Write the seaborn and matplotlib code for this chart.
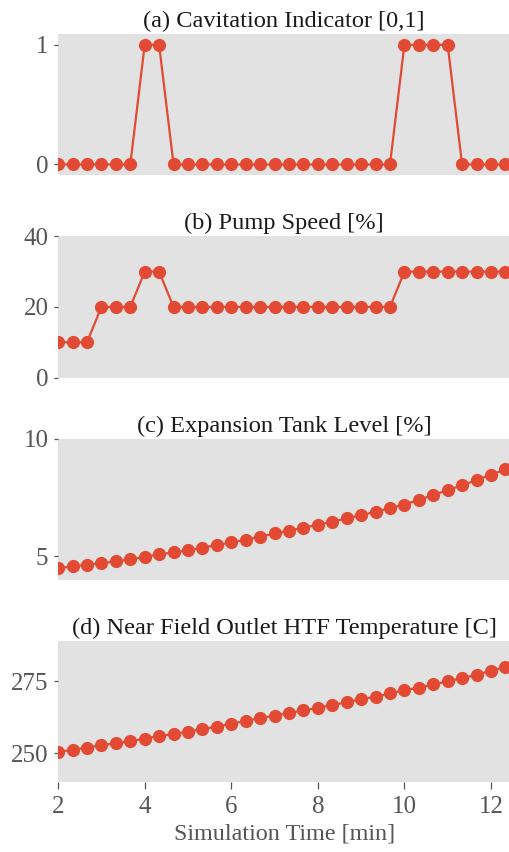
import numpy as np
import pandas as pd
import matplotlib
matplotlib.use("Agg")
import matplotlib.pyplot as plt
import seaborn as sns

# Sample times in minutes (20 s step)
time_min = [2.0, 2.333, 2.667, 3.0, 3.333, 3.667, 4.0, 4.333, 4.667, 5.0, 5.333,
            5.667, 6.0, 6.333, 6.667, 7.0, 7.333, 7.667, 8.0, 8.333, 8.667, 9.0,
            9.333, 9.667, 10.0, 10.333, 10.667, 11.0, 11.333, 11.667, 12.0, 12.333]

cavitation = [0, 0, 0, 0, 0, 0, 1, 1, 0, 0, 0, 0, 0, 0, 0, 0,
              0, 0, 0, 0, 0, 0, 0, 0, 1, 1, 1, 1, 0, 0, 0, 0]

pump_speed = [10, 10, 10, 20, 20, 20, 30, 30, 20, 20, 20, 20, 20, 20, 20, 20,
              20, 20, 20, 20, 20, 20, 20, 20, 30, 30, 30, 30, 30, 30, 30, 30]

tank_level = [4.50, 4.57, 4.64, 4.71, 4.78, 4.87, 4.97, 5.08, 5.17, 5.25, 5.37,
              5.48, 5.59, 5.71, 5.83, 5.97, 6.08, 6.22, 6.34, 6.47, 6.61, 6.75,
              6.89, 7.05, 7.20, 7.40, 7.60, 7.82, 8.02, 8.24, 8.46, 8.70]

outlet_temp = [250.5, 251.2, 252.0, 252.8, 253.5, 254.2, 255.1, 256.0, 256.7,
               257.5, 258.4, 259.3, 260.2, 261.3, 262.2, 263.1, 264.0, 264.9,
               265.7, 266.8, 267.7, 268.8, 269.6, 270.8, 271.9, 272.8, 273.9,
               275.0, 276.1, 277.2, 278.7, 279.9]

titles = ["(a) Cavitation Indicator [0,1]",
          "(b) Pump Speed [%]",
          "(c) Expansion Tank Level [%]",
          "(d) Near Field Outlet HTF Temperature [C]"]
y_ticks = [[0, 1], [0, 20, 40], [5, 10], [250, 275]]
y_limits = [(-0.09, 1.09), (0, 40), (4.0, 10.0), (240, 289)]
x_ticks = [2, 4, 6, 8, 10, 12]

df = pd.DataFrame({"time": time_min, "cav": cavitation, "speed": pump_speed,
                   "level": tank_level, "temp": outlet_temp})
columns = ["cav", "speed", "level", "temp"]

sns.set_theme(style="white", rc={
    "axes.facecolor": "#E2E2E2",
    "axes.edgecolor": "none",
    "axes.grid": False,
    "xtick.bottom": True,
    "ytick.left": True,
})
plt.rcParams["font.family"] = ["Liberation Serif", "DejaVu Serif"]

line_color = "#E24A33"
tick_color = "#555555"

fig, axes = plt.subplots(4, 1, figsize=(5.1, 8.52), dpi=100, sharex=True)
fig.subplots_adjust(left=0.114, right=1.0, top=0.96, bottom=0.082, hspace=0.433)

for ax, col, title, yt, yl in zip(axes, columns, titles, y_ticks, y_limits):
    sns.lineplot(data=df, x="time", y=col, ax=ax, color=line_color,
                 marker="o", markersize=9.5, markeredgewidth=0,
                 linewidth=1.6)
    for s in ax.spines.values():
        s.set_visible(False)
    ax.set_title(title, fontsize=17.6, color="#1a1a1a", pad=5)
    ax.set_yticks(yt)
    ax.set_ylim(*yl)
    ax.set_ylabel("")
    ax.set_xlabel("")
    ax.tick_params(axis="y", length=3, width=0.9, color=tick_color,
                   labelcolor=tick_color, labelsize=18, pad=4)
    ax.tick_params(axis="x", bottom=False, labelbottom=False)

axes[-1].set_xlim(2, 12.44)
axes[-1].set_xticks(x_ticks)
axes[-1].tick_params(axis="x", bottom=True, labelbottom=True, length=5,
                     width=0.9, color=tick_color, labelcolor=tick_color,
                     labelsize=18, pad=5)
axes[-1].set_xlabel("Simulation Time [min]", fontsize=17.4, color=tick_color,
                    labelpad=4)

fig.savefig("out.png", dpi=100)
